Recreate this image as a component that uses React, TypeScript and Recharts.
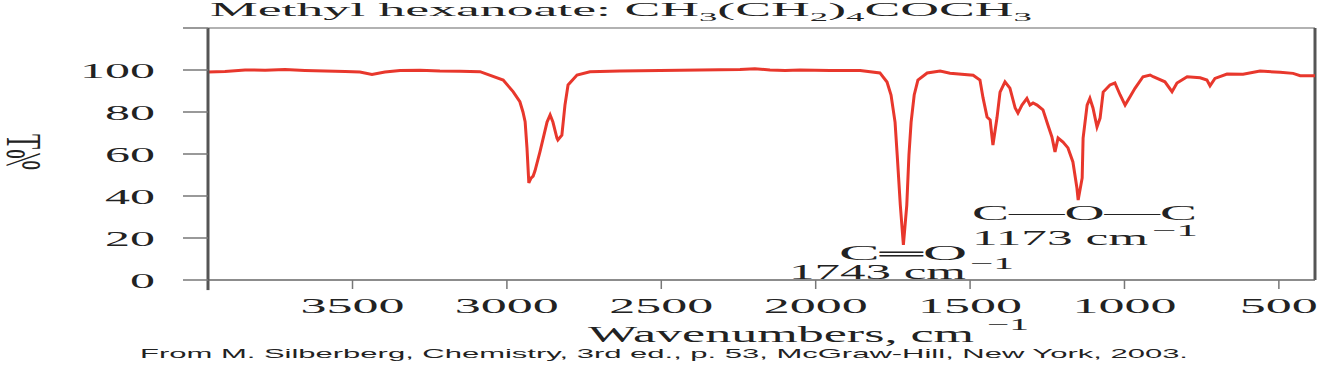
import { Line, LineChart, ReferenceLine, XAxis, YAxis } from "recharts";

// IR spectrum of methyl hexanoate
const wavenumbers = [
  3968, 3913, 3848, 3783, 3719, 3654, 3589, 3524, 3476, 3437, 3395, 3346, 3281, 3217, 3152, 3087,
  3012, 2980, 2958, 2948, 2941, 2935, 2929, 2922, 2915, 2909, 2893, 2870, 2860, 2851, 2838, 2835,
  2822, 2812, 2802, 2773, 2731, 2634, 2504, 2375, 2245, 2197, 2148, 2099, 2051, 1954, 1856, 1792,
  1769, 1756, 1743, 1736, 1726, 1716, 1705, 1698, 1691, 1681, 1669, 1639, 1597, 1565, 1490, 1468,
  1458, 1445, 1435, 1426, 1413, 1403, 1387, 1371, 1354, 1345, 1332, 1316, 1306, 1296, 1283, 1264,
  1248, 1235, 1225, 1215, 1199, 1183, 1167, 1154, 1150, 1137, 1134, 1121, 1112, 1102, 1089, 1079,
  1069, 1047, 1031, 1014, 998, 982, 966, 940, 917, 907, 869, 846, 830, 797, 755, 733, 723, 707,
  668, 616, 561, 496, 454, 431, 392, 383,
];
const transmittance = [
  99.0, 99.3, 100.0, 99.9, 100.2, 99.8, 99.5, 99.3, 99.0, 97.9, 99.0, 99.8, 99.9, 99.5, 99.4, 99.2,
  95.2, 89.7, 84.9, 80.0, 75.4, 62.9, 46.2, 48.5, 49.5, 52.0, 61.0, 75.2, 78.6, 75.2, 67.6, 66.7,
  69.0, 83.3, 92.9, 97.6, 99.2, 99.5, 99.8, 100.0, 100.2, 100.6, 100.0, 99.8, 100.0, 99.8, 99.8, 98.6,
  94.3, 88.1, 75.2, 59.5, 35.7, 16.7, 35.7, 59.5, 75.2, 88.1, 95.2, 98.6, 99.5, 98.5, 97.5, 95.2,
  86.7, 77.6, 76.2, 64.3, 77.1, 89.5, 94.4, 91.4, 81.9, 79.5, 83.3, 86.5, 83.3, 84.3, 83.3, 81.0,
  73.8, 68.1, 61.0, 67.6, 65.7, 62.9, 56.2, 43.8, 38.1, 48.6, 67.6, 83.3, 86.5, 81.9, 72.9, 77.1,
  89.5, 92.9, 93.8, 88.1, 83.3, 87.3, 91.3, 96.8, 97.6, 96.8, 94.4, 89.7, 93.8, 96.8, 96.3, 95.2, 92.5, 96.0,
  98.1, 98.0, 99.5, 98.9, 98.4, 97.3, 97.3, 97.3,
];
const xTicks = [3500, 3000, 2500, 2000, 1500, 1000, 500];
const yTicks = [0, 20, 40, 60, 80, 100, 120];

const spectrum = wavenumbers.map((wn, i) => ({ wn, t: transmittance[i] }));

const SERIF = "'Liberation Serif', 'Times New Roman', serif";
const SANS = "'Liberation Sans', Arial, sans-serif";
const INK = "#222";
const X_MIN = 383;
const X_MAX = 3968;

// the scan is stretched sideways, so every label is forced to its measured width
function Fit({ x, y, w, size, family = SERIF, children }: any) {
  return (
    <text
      fill={INK}
      fontFamily={family}
      fontSize={size}
      lengthAdjust="spacingAndGlyphs"
      stroke="none"
      style={{ fontFamily: family, fontWeight: 400 }}
      textLength={w}
      x={x}
      y={y}
    >
      {children}
    </text>
  );
}

function YTick({ x, y, payload }: any) {
  if (payload.value === 120) return <g />;
  const label = String(payload.value);
  const w = label.length * 25;
  return <Fit size={22} w={w} x={x - 28 - w} y={y + 7.5}>{label}</Fit>;
}

function XTick({ x, y, payload }: any) {
  const label = String(payload.value);
  const w = label.length * 26;
  return <Fit size={22} w={w} x={x - w / 2} y={y + 24}>{label}</Fit>;
}

function Overlay() {
  return (
    <svg height={365} style={{ left: 0, pointerEvents: "none", position: "absolute", top: 0 }} width={1333}>
      <text fill={INK} fontFamily={SERIF} fontSize={19} lengthAdjust="spacingAndGlyphs" textLength={822} x={210} y={16}>
        Methyl hexanoate: CH<tspan dy={5} fontSize={13}>3</tspan>
        <tspan dy={-5}>(CH</tspan><tspan dy={5} fontSize={13}>2</tspan>
        <tspan dy={-5}>)</tspan><tspan dy={5} fontSize={13}>4</tspan>
        <tspan dy={-5}>COCH</tspan><tspan dy={5} fontSize={13}>3</tspan>
      </text>

      <g transform="translate(7,152) scale(-2.3,1) rotate(-90)">
        <text fill={INK} fontFamily={SERIF} fontSize={22} lengthAdjust="spacingAndGlyphs" textAnchor="middle" textLength={36} x={0} y={0}>
          %T
        </text>
      </g>

      <Fit size={20} w={128} x={839} y={260}>C═O</Fit>
      <Fit size={22} w={177} x={789} y={279}>1743 cm</Fit>
      <Fit size={16} w={44} x={970} y={269}>−1</Fit>

      <Fit size={22} w={225} x={972} y={220}>C—O—C</Fit>
      <Fit size={22} w={176} x={972} y={245}>1173 cm</Fit>
      <Fit size={16} w={46} x={1152} y={236}>−1</Fit>

      <Fit size={23} w={386} x={588} y={342}>Wavenumbers, cm</Fit>
      <Fit size={16} w={42} x={987} y={330}>−1</Fit>

      <Fit family={SANS} size={13} w={1048} x={140} y={358}>
        From M. Silberberg, Chemistry, 3rd ed., p. 53, McGraw-Hill, New York, 2003.
      </Fit>
    </svg>
  );
}

export default function App() {
  return (
    <div style={{ background: "#fff", height: 365, left: 0, position: "absolute", top: 0, width: 1333 }}>
      <LineChart data={spectrum} height={365} margin={{ bottom: 55, left: 148, right: 18, top: 28 }} width={1333}>
        <XAxis
          allowDataOverflow
          axisLine={{ stroke: "#666", strokeWidth: 1.5 }}
          dataKey="wn"
          domain={[X_MIN, X_MAX]}
          height={30}
          interval={0}
          reversed
          tick={<XTick />}
          tickLine={{ stroke: "#777", strokeWidth: 1.5 }}
          tickMargin={0}
          tickSize={9}
          ticks={xTicks}
          type="number"
        />
        <YAxis
          axisLine={{ stroke: "#555", strokeWidth: 3 }}
          domain={[0, 120]}
          interval={0}
          tick={<YTick />}
          tickLine={{ stroke: "#777", strokeWidth: 1.5 }}
          tickMargin={0}
          tickSize={25}
          ticks={yTicks}
          type="number"
          width={60}
        />
        <ReferenceLine stroke="#999" strokeWidth={1.5} y={120} />
        <ReferenceLine stroke="#555" strokeWidth={3} x={X_MIN} />
        <ReferenceLine
          ifOverflow="visible"
          segment={[{ x: X_MAX, y: -4.8 }, { x: X_MAX, y: 0 }]}
          stroke="#555"
          strokeWidth={3}
        />
        <Line dataKey="t" dot={false} isAnimationActive={false} stroke="#e8372c" strokeWidth={3} type="linear" />
      </LineChart>
      <Overlay />
    </div>
  );
}
